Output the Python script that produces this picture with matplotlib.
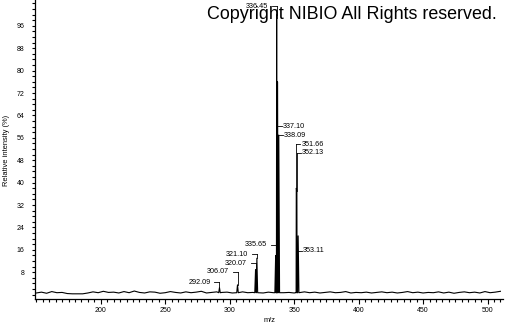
import matplotlib
matplotlib.use("Agg")
import matplotlib.pyplot as plt
from matplotlib.ticker import MultipleLocator, FixedLocator

plt.rcParams['font.family'] = ['Liberation Sans', 'DejaVu Sans']

# ---- data ----
base_mz = list(range(150, 511, 4))
base_int = [0.6, 0.9, 0.5, 1.1, 0.7, 0.8, 0.4, 0.3, 0.3, 0.3, 0.6,
            1.0, 0.7, 1.2, 0.8, 0.9, 0.6, 1.1, 0.7, 1.3, 0.8, 0.6, 1.0, 0.9, 0.5, 0.7,
            1.1, 0.8, 0.6, 1.0, 0.7, 0.9, 1.2, 0.6, 0.8, 1.0,
            0.8, 0.9, 0.6, 0.7, 1.0, 0.7, 0.8, 0.9, 0.6, 0.9, 0.7, 0.8,
            0.7, 0.8, 0.6, 0.7, 1.0, 0.7, 0.9, 0.6, 0.8, 1.0, 0.7, 0.8, 1.1, 0.6,
            0.8, 0.7, 0.9, 0.6, 0.8, 1.0, 0.7, 0.9, 0.6, 0.8, 1.1, 0.7, 0.9, 0.6,
            0.8, 0.7, 1.0, 0.6, 0.9, 0.5, 0.8, 1.0, 0.7, 0.9, 0.6, 1.1, 0.7, 0.9, 1.2]

peak_labels = ['292.09', '306.07', '320.07', '321.10', '335.65', '336.45',
               '337.10', '338.09', '351.66', '352.13', '353.11']
peak_mz = [292.09, 306.07, 320.07, 321.10, 335.65, 336.45,
           337.10, 338.09, 351.66, 352.13, 353.11]
peak_int = [2.5, 3.5, 9, 13, 14, 100, 76, 57, 38, 37, 21]
label_level = [4.5, 8.1, 11.3, 14.5, 17.75, 103, 60.2, 57, 53.8, 50.6, 15.6]
label_side = ['L', 'L', 'L', 'L', 'L', 'L', 'R', 'R', 'R', 'R', 'R']

x_ticks = [200, 250, 300, 350, 400, 450, 500]
y_ticks = [8, 16, 24, 32, 40, 48, 56, 64, 72, 80, 88, 96]

# ---- build profile ----
hw = 0.6
pts = [(m, v) for m, v in zip(base_mz, base_int)
       if all(abs(m - p) > 1.2 for p in peak_mz)]
for m, h in zip(peak_mz, peak_int):
    pts += [(m - hw, 0.7), (m, h), (m + hw, 0.7)]
pts.sort(key=lambda t: t[0])
px = [p[0] for p in pts]
py = [p[1] for p in pts]

W, H = 505, 325
fig = plt.figure(figsize=(W / 100, H / 100), dpi=100)
ax_l, ax_r, ax_t, ax_b = 35, 503, 0, 299
ax = fig.add_axes([ax_l / W, 1 - ax_b / H, (ax_r - ax_l) / W, (ax_b - ax_t) / H])
xmin, xmax = 149, 512
ymin, ymax = -1.55, 105.25
ax.set_xlim(xmin, xmax)
ax.set_ylim(ymin, ymax)

ax.plot(px, py, color='black', lw=0.8, zorder=3)

for s in ['top', 'right']:
    ax.spines[s].set_visible(False)
for s in ['left', 'bottom']:
    ax.spines[s].set_linewidth(0.9)

ax.xaxis.set_major_locator(FixedLocator(x_ticks))
ax.xaxis.set_minor_locator(MultipleLocator(5))
ax.yaxis.set_major_locator(FixedLocator(y_ticks))
ax.yaxis.set_minor_locator(MultipleLocator(2))
ax.set_xticklabels([str(t) for t in x_ticks])
ax.set_yticklabels([str(t) for t in y_ticks])
ax.tick_params(axis='x', which='major', length=3.5, width=0.8, pad=2.5, labelsize=5)
ax.tick_params(axis='x', which='minor', length=2.5, width=0.8)
ax.tick_params(axis='y', which='major', length=2.5, width=0.8, pad=5, labelsize=5)
ax.tick_params(axis='y', which='minor', length=2.0, width=0.8)

# ---- peak labels ----
mz_per_px = (xmax - xmin) / (ax_r - ax_l)
for lab, m, h, lv, side in zip(peak_labels, peak_mz, peak_int, label_level, label_side):
    if lv > h:
        ax.plot([m, m], [h, lv], color='black', lw=0.6, zorder=4)
    if side == 'L':
        ax.plot([m - 5 * mz_per_px, m], [lv, lv], color='black', lw=0.6, zorder=4)
        ax.text(m - 9 * mz_per_px, lv, lab, ha='right', va='center', fontsize=5.2, zorder=5)
    else:
        ax.plot([m, m + 4 * mz_per_px], [lv, lv], color='black', lw=0.6, zorder=4)
        ax.text(m + 5 * mz_per_px, lv, lab, ha='left', va='center', fontsize=5.2, zorder=5)

fig.text(270 / W, 1 - 320 / H, 'm/z', ha='center', va='center', fontsize=5.4)
fig.text(7 / W, 1 - 150 / H, 'Relative intensity (%)', rotation=90,
         ha='center', va='center', fontsize=5.4)
fig.text(207 / W, 1 - 19 / H, 'Copyright NIBIO All Rights reserved.',
         ha='left', va='baseline', fontsize=12.9, zorder=1)

fig.savefig('out.png', dpi=100)
